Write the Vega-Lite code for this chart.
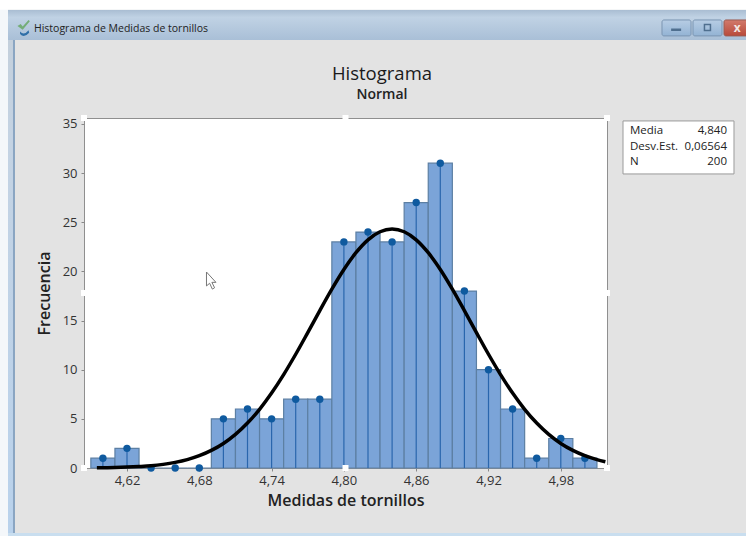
{
"$schema":"https://vega.github.io/schema/vega-lite/v6.json",
"width":523,"height":350,
"autosize":{"type":"none"},
"padding":{"left":84,"top":118,"right":139,"bottom":68},
"background":"#e3e3e3",
"view":{"fill":"#ffffff","stroke":"#8f8f8f","strokeWidth":1},
"datasets":{
"bins":[
{"medida":4.60,"lo":4.59,"hi":4.61,"frecuencia":1},
{"medida":4.62,"lo":4.61,"hi":4.63,"frecuencia":2},
{"medida":4.64,"lo":4.63,"hi":4.65,"frecuencia":0},
{"medida":4.66,"lo":4.65,"hi":4.67,"frecuencia":0},
{"medida":4.68,"lo":4.67,"hi":4.69,"frecuencia":0},
{"medida":4.70,"lo":4.69,"hi":4.71,"frecuencia":5},
{"medida":4.72,"lo":4.71,"hi":4.73,"frecuencia":6},
{"medida":4.74,"lo":4.73,"hi":4.75,"frecuencia":5},
{"medida":4.76,"lo":4.75,"hi":4.77,"frecuencia":7},
{"medida":4.78,"lo":4.77,"hi":4.79,"frecuencia":7},
{"medida":4.80,"lo":4.79,"hi":4.81,"frecuencia":23},
{"medida":4.82,"lo":4.81,"hi":4.83,"frecuencia":24},
{"medida":4.84,"lo":4.83,"hi":4.85,"frecuencia":23},
{"medida":4.86,"lo":4.85,"hi":4.87,"frecuencia":27},
{"medida":4.88,"lo":4.87,"hi":4.89,"frecuencia":31},
{"medida":4.90,"lo":4.89,"hi":4.91,"frecuencia":18},
{"medida":4.92,"lo":4.91,"hi":4.93,"frecuencia":10},
{"medida":4.94,"lo":4.93,"hi":4.95,"frecuencia":6},
{"medida":4.96,"lo":4.95,"hi":4.97,"frecuencia":1},
{"medida":4.98,"lo":4.97,"hi":4.99,"frecuencia":3},
{"medida":5.00,"lo":4.99,"hi":5.01,"frecuencia":1}
],
"curve":[
{"x":4.595,"y":0.02},{"x":4.61,"y":0.05},{"x":4.62,"y":0.09},{"x":4.63,"y":0.15},{"x":4.64,"y":0.23},{"x":4.65,"y":0.37},{"x":4.66,"y":0.57},{"x":4.67,"y":0.85},{"x":4.68,"y":1.25},{"x":4.69,"y":1.79},{"x":4.70,"y":2.50},{"x":4.71,"y":3.42},{"x":4.72,"y":4.57},{"x":4.73,"y":5.97},{"x":4.74,"y":7.62},{"x":4.75,"y":9.50},{"x":4.76,"y":11.57},{"x":4.77,"y":13.77},{"x":4.78,"y":16.01},{"x":4.79,"y":18.19},{"x":4.80,"y":20.19},{"x":4.81,"y":21.90},{"x":4.82,"y":23.21},{"x":4.83,"y":24.03},{"x":4.84,"y":24.31},{"x":4.85,"y":24.03},{"x":4.86,"y":23.21},{"x":4.87,"y":21.90},{"x":4.88,"y":20.19},{"x":4.89,"y":18.19},{"x":4.90,"y":16.01},{"x":4.91,"y":13.77},{"x":4.92,"y":11.57},{"x":4.93,"y":9.50},{"x":4.94,"y":7.62},{"x":4.95,"y":5.97},{"x":4.96,"y":4.57},{"x":4.97,"y":3.42},{"x":4.98,"y":2.50},{"x":4.99,"y":1.79},{"x":5.00,"y":1.25},{"x":5.01,"y":0.85},{"x":5.017,"y":0.64}
],
"handles":[
{"x":4.58432,"y":0},{"x":4.80133,"y":0},{"x":5.01834,"y":0},
{"x":4.58432,"y":17.8},{"x":5.01834,"y":17.8},
{"x":4.58432,"y":35.6},{"x":4.80133,"y":35.6},{"x":5.01834,"y":35.6}
],
"stats":[
{"label":"Media","value":"4,840","y":34.28},
{"label":"Desv.Est.","value":"0,06564","y":32.65},
{"label":"N","value":"200","y":31.13}
]
},
"layer":[
{"data":{"values":[{"x":4.52125,"x2":5.14,"y":46.6,"y2":43.54}]},
 "mark":{"type":"rect","clip":false,"fill":{"x1":0,"y1":0,"x2":0,"y2":1,"gradient":"linear","stops":[{"offset":0,"color":"#a9bdd2"},{"offset":0.25,"color":"#c0d2e4"},{"offset":1,"color":"#a9bfd7"}]}},
 "encoding":{"x":{"field":"x","type":"quantitative","scale":{"domain":[4.58432,5.01834],"nice":false,"zero":false},"axis":{"values":[4.62,4.68,4.74,4.80,4.86,4.92,4.98],"labelExpr":"replace(format(datum.value,'.2f'),'.',',')","title":"Medidas de tornillos","grid":false,"domain":false,"tickSize":3,"tickColor":"#888888","labelFont":"Open Sans","labelFontSize":13,"labelColor":"#333333","labelPadding":3,"titleFont":"Open Sans","titleFontSize":16,"titleFontWeight":600,"titleColor":"#222222","titlePadding":5}},"x2":{"field":"x2"},"y":{"field":"y","type":"quantitative","scale":{"domain":[0,35.6],"nice":false},"axis":{"values":[0,5,10,15,20,25,30,35],"title":"Frecuencia","grid":false,"domain":false,"tickSize":3,"tickColor":"#888888","labelFont":"Open Sans","labelFontSize":13,"labelColor":"#333333","labelPadding":4,"titleFont":"Open Sans","titleFontSize":16,"titleFontWeight":600,"titleColor":"#222222","titlePadding":10}},"y2":{"field":"y2"}}
},
{"data":{"values":[{"x":4.5146,"x2":4.52125,"y":47.7,"y2":-7}]},
 "mark":{"type":"rect","clip":false,"color":"#f4f7fa"},
 "encoding":{"x":{"field":"x","type":"quantitative"},"x2":{"field":"x2"},"y":{"field":"y","type":"quantitative"},"y2":{"field":"y2"}}
},
{"data":{"values":[{"x":4.52125,"x2":4.52539,"y":43.54,"y2":-7}]},
 "mark":{"type":"rect","clip":false,"fill":{"x1":0,"y1":0,"x2":0,"y2":1,"gradient":"linear","stops":[{"offset":0,"color":"#c4d0dc"},{"offset":0.2,"color":"#c4d3e3"},{"offset":1,"color":"#b9d2ec"}]}},
 "encoding":{"x":{"field":"x","type":"quantitative"},"x2":{"field":"x2"},"y":{"field":"y","type":"quantitative"},"y2":{"field":"y2"}}
},
{"data":{"values":[{"x":4.52539,"x2":4.52705,"y":43.54,"y2":-7}]},
 "mark":{"type":"rect","clip":false,"color":"#8aa5c2"},
 "encoding":{"x":{"field":"x","type":"quantitative"},"x2":{"field":"x2"},"y":{"field":"y","type":"quantitative"},"y2":{"field":"y2"}}
},
{"data":{"values":[{"x":4.52125,"x2":5.14,"y":-6.61,"y2":-7}]},
 "mark":{"type":"rect","clip":false,"color":"#c9deef"},
 "encoding":{"x":{"field":"x","type":"quantitative"},"x2":{"field":"x2"},"y":{"field":"y","type":"quantitative"},"y2":{"field":"y2"}}
},
{"data":{"values":[{"x":4.5146,"x2":5.14,"y":47.7,"y2":46.6}]},
 "mark":{"type":"rect","clip":false,"color":"#ffffff"},
 "encoding":{"x":{"field":"x","type":"quantitative"},"x2":{"field":"x2"},"y":{"field":"y","type":"quantitative"},"y2":{"field":"y2"}}
},
{"data":{"values":[{"x":5.06398,"x2":5.08805,"y":45.57,"y2":43.95},{"x":5.08971,"x2":5.11378,"y":45.57,"y2":43.95}]},
 "mark":{"type":"rect","clip":false,"cornerRadius":2,"stroke":"#7b95b2","fill":{"x1":0,"y1":0,"x2":0,"y2":1,"gradient":"linear","stops":[{"offset":0,"color":"#b7cde4"},{"offset":1,"color":"#93b3d4"}]}},
 "encoding":{"x":{"field":"x","type":"quantitative"},"x2":{"field":"x2"},"y":{"field":"y","type":"quantitative"},"y2":{"field":"y2"}}
},
{"data":{"values":[{"x":5.11544,"x2":5.14,"y":45.57,"y2":43.95}]},
 "mark":{"type":"rect","clip":false,"cornerRadius":2,"stroke":"#9c5a50","fill":{"x1":0,"y1":0,"x2":0,"y2":1,"gradient":"linear","stops":[{"offset":0,"color":"#d27a6c"},{"offset":1,"color":"#b84a3a"}]}},
 "encoding":{"x":{"field":"x","type":"quantitative"},"x2":{"field":"x2"},"y":{"field":"y","type":"quantitative"},"y2":{"field":"y2"}}
},
{"data":{"values":[{"x":5.0757,"y":44.6}]},
 "mark":{"type":"point","clip":false,"filled":true,"opacity":1,"color":"#4f6f8f","size":100,"shape":"M-1 -0.2 L1 -0.2 L1 0.3 L-1 0.3 Z"},
 "encoding":{"x":{"field":"x","type":"quantitative"},"y":{"field":"y","type":"quantitative"}}
},
{"data":{"values":[{"x":5.1017,"y":44.8}]},
 "mark":{"type":"point","clip":false,"filled":false,"opacity":1,"stroke":"#4f6f8f","strokeWidth":1.5,"shape":"square","size":36},
 "encoding":{"x":{"field":"x","type":"quantitative"},"y":{"field":"y","type":"quantitative"}}
},
{"data":{"values":[{"t":"x","x":5.1265,"y":44.8}]},
 "mark":{"type":"text","clip":false,"font":"Open Sans","fontWeight":700,"fontSize":12,"color":"#f2e6e2","baseline":"middle","align":"center"},
 "encoding":{"text":{"field":"t"},"x":{"field":"x","type":"quantitative"},"y":{"field":"y","type":"quantitative"}}
},
{"data":{"values":[{"x":4.5345,"y":44.9}]},
 "mark":{"type":"point","clip":false,"filled":true,"opacity":1,"color":"#74ad78","size":170,"shape":"M-1 -0.1 L-0.5 -0.4 L-0.2 0 L0.7 -1 L0.9 -0.8 L-0.2 0.5 Z"},
 "encoding":{"x":{"field":"x","type":"quantitative"},"y":{"field":"y","type":"quantitative"}}
},
{"data":{"values":[{"x":4.5345,"y":44.6}]},
 "mark":{"type":"point","clip":false,"filled":true,"opacity":1,"color":"#2f6fa8","size":170,"shape":"M-0.6 0.3 Q0 1 0.7 0.1 L0.8 0.5 Q0 1.4 -0.6 0.7 Z"},
 "encoding":{"x":{"field":"x","type":"quantitative"},"y":{"field":"y","type":"quantitative"}}
},
{"data":{"values":[{"t":"Histograma de Medidas de tornillos"}]},
 "mark":{"type":"text","clip":false,"align":"left","baseline":"middle","font":"Open Sans","fontSize":10.5,"color":"#222222"},
 "encoding":{"text":{"field":"t"},"x":{"datum":4.5428,"type":"quantitative"},"y":{"datum":44.7,"type":"quantitative"}}
},
{"data":{"values":[{"t":"Histograma","x":4.8316,"y":40.08}]},
 "mark":{"type":"text","clip":false,"align":"center","baseline":"middle","font":"Open Sans","fontSize":18.5,"fontWeight":500,"color":"#1a1a1a"},
 "encoding":{"text":{"field":"t"},"x":{"field":"x","type":"quantitative"},"y":{"field":"y","type":"quantitative"}}
},
{"data":{"values":[{"t":"Normal","x":4.8316,"y":37.94}]},
 "mark":{"type":"text","clip":false,"align":"center","baseline":"middle","font":"Open Sans","fontSize":14,"fontWeight":600,"color":"#222222"},
 "encoding":{"text":{"field":"t"},"x":{"field":"x","type":"quantitative"},"y":{"field":"y","type":"quantitative"}}
},
{"data":{"name":"bins"},
 "mark":{"type":"rect","fill":"#7ba4d8","stroke":"#5c7fa3","strokeWidth":1.2},
 "encoding":{"x":{"field":"lo","type":"quantitative"},"x2":{"field":"hi"},"y":{"field":"frecuencia","type":"quantitative"},"y2":{"datum":0}}
},
{"data":{"name":"bins"},
 "mark":{"type":"rule","color":"#2a66ad","strokeWidth":1.2},
 "encoding":{"x":{"field":"medida","type":"quantitative"},"y":{"field":"frecuencia","type":"quantitative"},"y2":{"datum":0}}
},
{"data":{"name":"bins"},
 "mark":{"type":"point","filled":true,"opacity":1,"size":55,"color":"#0f5a9f"},
 "encoding":{"x":{"field":"medida","type":"quantitative"},"y":{"field":"frecuencia","type":"quantitative"}}
},
{"data":{"name":"curve"},
 "mark":{"type":"line","color":"#000000","strokeWidth":3.5,"interpolate":"monotone","clip":false},
 "encoding":{"x":{"field":"x","type":"quantitative"},"y":{"field":"y","type":"quantitative"}}
},
{"data":{"name":"handles"},
 "mark":{"type":"point","shape":"square","filled":true,"opacity":1,"size":36,"color":"#ffffff","clip":false},
 "encoding":{"x":{"field":"x","type":"quantitative"},"y":{"field":"y","type":"quantitative"}}
},
{"data":{"values":[{"x":4.6897,"y":19.02}]},
 "mark":{"type":"point","clip":false,"filled":false,"opacity":1,"fill":"#ffffff","stroke":"#777777","strokeWidth":1,"size":324,"shape":"M-0.5 -1 L-0.5 0.55 L-0.15 0.25 L0.15 0.9 L0.4 0.75 L0.1 0.15 L0.55 0.15 Z"},
 "encoding":{"x":{"field":"x","type":"quantitative"},"y":{"field":"y","type":"quantitative"}}
},
{"data":{"values":[{"x":5.03162,"x2":5.12373,"y":35.3,"y2":29.91}]},
 "mark":{"type":"rect","clip":false,"fill":"#ffffff","stroke":"#9a9a9a","strokeWidth":1},
 "encoding":{"x":{"field":"x","type":"quantitative"},"x2":{"field":"x2"},"y":{"field":"y","type":"quantitative"},"y2":{"field":"y2"}}
},
{"data":{"name":"stats"},
 "mark":{"type":"text","clip":false,"align":"left","baseline":"middle","font":"Open Sans","fontSize":11.5,"color":"#222222"},
 "encoding":{"text":{"field":"label"},"x":{"datum":5.03743,"type":"quantitative"},"y":{"field":"y","type":"quantitative"}}
},
{"data":{"name":"stats"},
 "mark":{"type":"text","clip":false,"align":"right","baseline":"middle","font":"Open Sans","fontSize":11.5,"color":"#222222"},
 "encoding":{"text":{"field":"value"},"x":{"datum":5.11793,"type":"quantitative"},"y":{"field":"y","type":"quantitative"}}
}
]
}
